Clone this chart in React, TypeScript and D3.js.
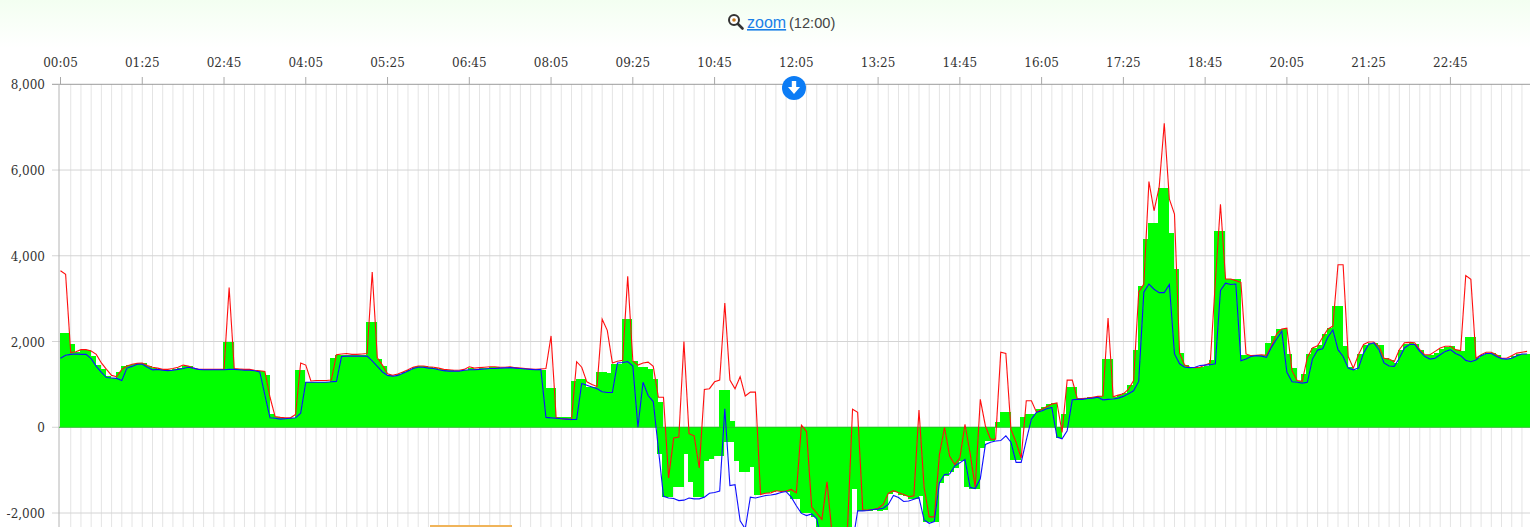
import React from "react";
import * as d3 from "d3";

const W = 1530, H = 527;

const tickLabels = ["00:05","01:25","02:45","04:05","05:25","06:45","08:05","09:25","10:45","12:05","13:25","14:45","16:05","17:25","18:45","20:05","21:25","22:45"];
const yTicks = [8000, 6000, 4000, 2000, 0, -2000];

const redLine = [
3650,3570,1740,1760,1810,1810,1780,1700,1500,1350,1210,1180,1350,1430,1470,1490,
1500,1440,1400,1380,1350,1350,1370,1400,1450,1430,1380,1350,1350,1350,1350,1350,
1350,3260,1370,1360,1350,1350,1330,1320,1300,700,250,230,220,220,300,1500,
1450,1080,1090,1090,1090,1100,1690,1710,1720,1700,1700,1710,1720,3620,1620,1450,
1250,1210,1240,1290,1340,1400,1430,1430,1410,1400,1380,1350,1340,1330,1330,1350,
1410,1380,1390,1400,1410,1410,1400,1400,1410,1390,1380,1370,1360,1350,1360,1370,
2130,220,200,190,180,1530,1400,1060,1000,950,2520,2260,1500,1540,1560,3520,
1550,1450,1500,1520,1420,700,700,-1180,-250,-230,2000,-150,-200,-950,880,900,
1060,1100,2900,1100,900,1180,730,820,820,-1570,-1540,-1530,-1480,-1500,-1490,-1450,
-1530,50,-100,-1860,-2000,-2150,-1270,-2500,-2700,-2700,-2400,420,350,-1930,-1930,-1920,
-1890,-1800,-1540,-1480,-1530,-1570,-1620,-1600,400,-1400,-2090,-2090,-640,0,-680,-870,
-720,70,-600,-1400,650,30,-280,-280,1750,1720,-50,-350,-720,620,620,350,
420,480,540,570,-120,1100,1100,660,670,680,700,720,730,2550,710,750,
780,890,1090,3150,3340,5730,5050,5600,7090,5320,4970,1730,1450,1400,1390,1400,
1450,1500,3400,5200,3460,3460,3420,3380,1710,1670,1680,1690,1680,1900,2180,2290,
2310,1320,1090,1070,1630,1850,1900,2100,2290,2360,3790,3790,1650,1380,1690,1930,
1990,1990,1890,1610,1590,1530,1810,1970,1980,1970,1810,1690,1690,1770,1850,1890,
1890,1810,1790,3540,3450,1610,1690,1750,1750,1690,1610,1610,1670,1730,1750,1770,
];

const blueLine = [
1610,1680,1700,1710,1700,1700,1600,1420,1280,1160,1150,1140,1090,1380,1420,1470,
1470,1400,1340,1350,1330,1320,1330,1350,1370,1400,1380,1350,1340,1340,1340,1340,
1340,1350,1350,1340,1330,1330,1320,1290,750,220,210,190,200,210,220,330,
1050,1050,1050,1050,1050,1060,1070,1650,1660,1660,1660,1660,1660,1550,1420,1290,
1210,1190,1210,1260,1310,1370,1400,1400,1380,1370,1340,1320,1310,1310,1310,1330,
1340,1340,1350,1360,1370,1370,1380,1385,1390,1380,1370,1360,1350,1340,1350,230,
220,210,200,190,180,180,1020,980,940,900,830,810,810,1500,1510,1530,
1430,0,1050,740,600,-500,-1610,-1650,-1660,-1710,-1700,-1650,-1670,-1670,-1630,-1540,
-1520,-1490,430,-1360,-1340,-2180,-2370,-1630,-1650,-1620,-1590,-1580,-1560,-1520,-1500,-1630,
-1830,-2010,-2060,-2020,-2140,-2720,-2800,-2900,-2900,-2900,-2900,-2700,-1950,-1950,-1940,-1920,
-1910,-1890,-1800,-1590,-1640,-1730,-1720,-1680,-1640,-2160,-2240,-2200,-1300,-1100,-1090,-900,
-830,-750,-1400,-1430,-1200,-400,-350,-320,-310,-200,-350,-820,-820,-300,190,350,
380,430,460,-230,-270,-80,640,650,650,670,680,700,640,650,660,680,
720,780,850,1070,3150,3340,3220,3140,3140,3330,1710,1480,1400,1390,1400,1440,
1450,1460,1480,3190,3360,3330,3340,1550,1590,1650,1670,1660,1630,1870,2060,2240,
1280,1060,1050,1030,1050,1590,1800,1830,2100,2270,1810,1650,1380,1340,1380,1730,
1930,1970,1810,1500,1430,1420,1610,1850,1930,1930,1770,1650,1590,1610,1690,1770,
1810,1720,1670,1560,1530,1570,1670,1720,1720,1650,1600,1590,1610,1670,1710,1710,
];

const greenBars = [
2200,2200,1950,1760,1800,1800,1670,1450,1350,1200,1150,1290,1430,1450,1480,1490,
1490,1430,1390,1370,1350,1340,1360,1390,1430,1420,1370,1350,1340,1340,1340,1340,
2000,2000,1360,1350,1340,1340,1320,1310,1230,310,240,220,220,220,1330,1330,
1060,1060,1060,1060,1060,1610,1680,1690,1690,1690,1690,1690,2450,2450,1600,1420,
1230,1200,1240,1290,1340,1400,1420,1420,1400,1390,1370,1340,1330,1320,1320,1340,
1380,1370,1380,1390,1400,1400,1390,1390,1400,1380,1370,1360,1340,1330,1340,920,
920,230,230,230,1090,1130,1130,940,940,1300,1300,1270,1480,1480,2520,2520,
1550,1410,1410,1360,1130,580,-1630,-1630,-1400,-1400,-620,-1280,-1630,-1630,-790,-740,
-680,860,860,150,-780,-1050,-1050,-930,-1590,-1560,-1540,-1500,-1480,-1490,-1500,-1670,
-1670,-2000,-2000,-2100,-2500,-2500,-2500,-2500,-2500,-2500,-2500,-1440,-1950,-1950,-1950,-1940,
-1950,-1920,-1560,-1500,-1570,-1600,-1680,-1680,-1600,-2220,-2220,-2220,-1290,-1130,-1050,-940,
-780,-1400,-1440,-1440,-480,-310,-310,120,350,350,-760,-760,250,310,310,420,
480,540,570,-260,310,930,930,690,690,700,710,730,1600,1600,700,750,
800,980,1800,3290,4400,4760,4760,5590,5590,4540,3700,1730,1450,1400,1390,1400,
1430,1560,4570,4570,3450,3450,3450,1690,1680,1680,1690,1680,1970,2140,2300,2300,
1720,1390,1080,1240,1700,1860,1920,2180,2320,2830,2830,1900,1400,1340,1710,1930,
1960,1960,1930,1610,1560,1500,1810,1950,1960,1950,1800,1680,1680,1740,1830,1880,
1890,1800,1780,2110,2110,1610,1690,1730,1730,1680,1600,1600,1660,1720,1720,1720,
];

// indices whose green column also reaches below zero
const splitIndex = [117, 129, 130, 131];
const splitValue = [-620, -680, -350, -350];

const x = d3.scaleLinear().domain([0, 287]).range([60.5, 60.5 + 5.11 * 287]);
const y = d3.scaleLinear().domain([-2000, 8000]).range([513, 84.3]);

const line = d3.line<number>().x((_, i) => x(i)).y((d) => y(d));
const step = x(1) - x(0);
const barX = (i: number) => x(i) - 1;

export default function App() {
  const vGrid = d3.range(2, 288, 2);
  const major = d3.range(0, 288, 16);
  const serif = "'DejaVu Serif', serif";
  return (
    <div style={{ position: "fixed", left: 0, top: 0, width: W, height: H, overflow: "hidden", background: "#fff" }}>
      <svg width={W} height={H} viewBox={`0 0 ${W} ${H}`} style={{ display: "block" }}>
        <defs>
          <linearGradient id="topBg" x1="0" y1="0" x2="0" y2="1">
            <stop offset="0" stopColor="#f3fff1" />
            <stop offset="1" stopColor="#ffffff" />
          </linearGradient>
          <filter id="soft" x="-1%" y="-1%" width="102%" height="102%">
            <feGaussianBlur stdDeviation="0.5" />
          </filter>
          <clipPath id="plot">
            <rect x={59} y={84} width={W - 59} height={H - 84} />
          </clipPath>
        </defs>
        <rect x={0} y={0} width={W} height={48} fill="url(#topBg)" />
        <g filter="url(#soft)">
          {vGrid.map((i) => (
            <line key={i} x1={x(i)} x2={x(i)} y1={84} y2={H} stroke="#e4e4e4" strokeWidth={1} />
          ))}
          {yTicks.map((t) => (
            <line key={t} x1={52} x2={W} y1={y(t)} y2={y(t)} stroke={t === 8000 ? "#9c9c9c" : "#d4d4d4"} strokeWidth={1} />
          ))}
          {major.map((i) => (
            <line key={i} x1={x(i)} x2={x(i)} y1={77} y2={84} stroke="#a8a8a8" strokeWidth={1} />
          ))}
          <line x1={59} x2={59} y1={84} y2={H} stroke="#b4b4b4" strokeWidth={1} />
          <g clipPath="url(#plot)">
            {greenBars.map((v, i) => (
              <rect key={i} x={barX(i)} width={step + 0.6} y={Math.min(y(v), y(0))} height={Math.abs(y(v) - y(0))} fill="#00ff00" shapeRendering="crispEdges" />
            ))}
            {splitIndex.map((k, j) => (
              <rect key={k} x={barX(k)} width={step + 0.6} y={y(0)} height={y(splitValue[j]) - y(0)} fill="#00ff00" shapeRendering="crispEdges" />
            ))}
            <line x1={59} x2={W} y1={y(0)} y2={y(0)} stroke="#22c522" strokeWidth={1} />
            <path d={line(redLine) || ""} fill="none" stroke="#ff1010" strokeWidth={1.1} />
            <path d={line(blueLine) || ""} fill="none" stroke="#1010ff" strokeWidth={1.1} />
          </g>
        </g>
        <g fontFamily={serif} fontSize={12} fill="#333">
          {tickLabels.map((t, k) => (
            <text key={t} x={x(major[k])} y={67} textAnchor="middle">{t}</text>
          ))}
          {yTicks.map((t) => (
            <text key={t} x={45} y={y(t) + 5} textAnchor="end">{d3.format(",")(t).replace("\u2212", "-")}</text>
          ))}
        </g>
        {/* zoom control */}
        <g transform="translate(735,21)">
          <circle cx={-1} cy={-1} r={5} fill="#fff" stroke="#333" strokeWidth={2} />
          <circle cx={-1} cy={-1} r={1.8} fill="#c97a1e" />
          <line x1={3} y1={3} x2={7.5} y2={7.5} stroke="#333" strokeWidth={2.6} strokeLinecap="round" />
        </g>
        <text x={747} y={28} fontFamily="'Liberation Sans', sans-serif" fontSize={16} fill="#1a80e8" textDecoration="underline">zoom</text>
        <text x={789} y={28} fontFamily="'Liberation Sans', sans-serif" fontSize={14.6} fill="#444">(12:00)</text>
        {/* drill-down button */}
        <g transform="translate(794,88)">
          <circle r={12} fill="#0c7cf5" />
          <path d="M-2.2,-7 H2.2 V-1 H6 L0,6 L-6,-1 H-2.2 Z" fill="#fff" />
        </g>
        <rect x={430} y={525} width={82} height={2} fill="#f0b45a" />
      </svg>
    </div>
  );
}
